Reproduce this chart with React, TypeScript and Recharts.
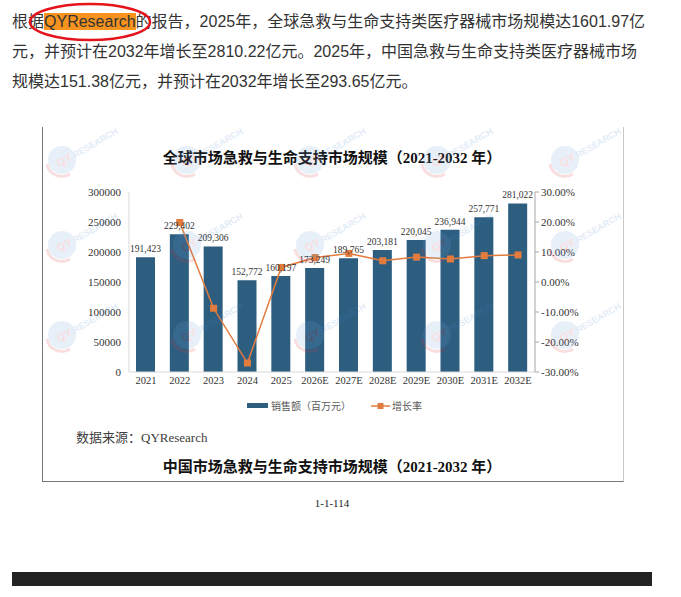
import React from 'react';
import { ComposedChart, Bar, Line, XAxis, YAxis, LabelList } from 'recharts';

const years = ['2021', '2022', '2023', '2024', '2025', '2026E', '2027E', '2028E', '2029E', '2030E', '2031E', '2032E'];
const sales = [191423, 229402, 209306, 152772, 160197, 173249, 189765, 203181, 220045, 236944, 257771, 281022];
const growth = [null, 0.1984, -0.0876, -0.2701, 0.0486, 0.0815, 0.0953, 0.0707, 0.083, 0.0768, 0.0879, 0.0902];
const leftTicks = [0, 50000, 100000, 150000, 200000, 250000, 300000];
const rightTicks = [-0.3, -0.2, -0.1, 0, 0.1, 0.2, 0.3];

// watermark logo positions in the chart picture
const markX = [62, 187, 310, 437, 565];
const markY = [160, 245, 335];

const data = years.map((year, i) => ({ year, sales: sales[i], growth: growth[i] }));

const BAR = '#2d5e80';
const ORANGE = '#e27c3e';
const SERIF = '"Liberation Serif", "Noto Sans CJK SC", serif';
const SANS = '"Liberation Sans", "Noto Sans CJK SC", sans-serif';

const SquareDot = (props: any) => {
  const { cx, cy, value } = props;
  if (value == null || cx == null || cy == null) return null;
  return <rect x={cx - 3.5} y={cy - 3.5} width={7} height={7} fill={ORANGE} />;
};

const ChartLegend = () => (
  <div style={{ display: 'flex', justifyContent: 'center', alignItems: 'center', fontFamily: SANS, fontSize: 10, color: '#595959' }}>
    <span style={{ display: 'inline-block', width: 21, height: 5, background: BAR, marginRight: 3 }} />
    <span style={{ marginRight: 20 }}>销售额（百万元）</span>
    <svg width={19} height={8} style={{ marginRight: 2 }}>
      <line x1={0} y1={4} x2={19} y2={4} stroke={ORANGE} strokeWidth={1.5} />
      <rect x={6.5} y={1} width={6} height={6} fill={ORANGE} />
    </svg>
    <span>增长率</span>
  </div>
);

const Watermarks = () => (
  <svg width={681} height={597} style={{ position: 'absolute', left: 0, top: 0, pointerEvents: 'none' }}>
    {markY.map((y, r) =>
      markX.map((x, c) => (
        <g key={`${r}-${c}`} transform={`translate(${x},${y})`} opacity={0.16}>
          <circle r={14} fill="#6fa3d6" />
          <path d="M -15 4 A 15 15 0 0 0 8 14" fill="none" stroke="#e0393e" strokeWidth={3} />
          <g transform="rotate(-30)">
            <text x={-6} y={5} fontFamily={SANS} fontSize={11} fontWeight={700} fill="#e0393e">QY</text>
            <text x={12} y={5} fontFamily={SANS} fontSize={9} fontWeight={700} fill="#4a8ad0">RESEARCH</text>
          </g>
        </g>
      ))
    )}
  </svg>
);

export default function App() {
  return (
    <div style={{ position: 'absolute', left: 0, top: 0, width: 681, height: 597, background: '#fff', overflow: 'hidden' }}>
      <div style={{ position: 'absolute', left: 12, top: 7, fontFamily: SANS, fontSize: 16, lineHeight: '30px', color: '#333', whiteSpace: 'nowrap' }}>
        根据<span style={{ background: '#f7931e' }}>QYResearch</span>的报告，2025年，全球急救与生命支持类医疗器械市场规模达1601.97亿
        <br />
        元，并预计在2032年增长至2810.22亿元。2025年，中国急救与生命支持类医疗器械市场
        <br />
        规模达151.38亿元，并预计在2032年增长至293.65亿元。
      </div>
      <svg width={681} height={60} style={{ position: 'absolute', left: 0, top: 0 }}>
        <ellipse cx={90} cy={22} rx={60} ry={18} fill="none" stroke="#e5141c" strokeWidth={2.5} />
      </svg>

      <div style={{ position: 'absolute', left: 42, top: 127, width: 580, height: 354, borderLeft: '1.5px solid #777', borderRight: '1px solid #c8c8c8', borderBottom: '1.5px solid #777' }} />

      <div style={{ position: 'absolute', left: 42, top: 146, width: 580, textAlign: 'center', fontFamily: SERIF, fontWeight: 700, fontSize: 15, color: '#111' }}>
        全球市场急救与生命支持市场规模（2021-2032 年）
      </div>

      <div style={{ position: 'absolute', left: 0, top: 0 }}>
        <ComposedChart width={681} height={597} data={data} margin={{ top: 192, right: 86, bottom: 207, left: 0 }}>
          <XAxis
            dataKey="year"
            height={18}
            axisLine={{ stroke: '#d9d9d9' }}
            tickLine={false}
            tickSize={3}
            tick={{ fontFamily: SERIF, fontSize: 10.5, fill: '#333' }}
            interval={0}
          />
          <YAxis
            yAxisId="left"
            width={129}
            domain={[0, 300000]}
            ticks={leftTicks}
            axisLine={{ stroke: '#d9d9d9' }}
            tickLine={false}
            tick={{ fontFamily: SERIF, fontSize: 11, fill: '#333' }}
          />
          <YAxis
            yAxisId="right"
            orientation="right"
            width={60}
            domain={[-0.3, 0.3]}
            ticks={rightTicks}
            axisLine={{ stroke: '#a6a6a6' }}
            tickLine={{ stroke: '#a6a6a6' }}
            tickSize={4}
            tickFormatter={(v: number) => `${(v * 100).toFixed(2)}%`}
            tick={{ fontFamily: SERIF, fontSize: 11, fill: '#333' }}
          />
          <Bar yAxisId="left" dataKey="sales" name="销售额（百万元）" fill={BAR} barSize={19} isAnimationActive={false}>
            <LabelList
              dataKey="sales"
              position="top"
              offset={5}
              formatter={(v: number) => v.toLocaleString('en-US')}
              style={{ fontFamily: SERIF, fontSize: 9.5, fill: '#333' }}
            />
          </Bar>
          <Line
            yAxisId="right"
            dataKey="growth"
            name="增长率"
            stroke={ORANGE}
            strokeWidth={1.5}
            dot={<SquareDot />}
            activeDot={false}
            connectNulls={false}
            isAnimationActive={false}
          />
        </ComposedChart>
      </div>

      <Watermarks />

      <div style={{ position: 'absolute', left: 0, top: 398, width: 669 }}>
        <ChartLegend />
      </div>

      <div style={{ position: 'absolute', left: 76, top: 427, fontFamily: SERIF, fontSize: 13, color: '#404040' }}>
        数据来源：QYResearch
      </div>
      <div style={{ position: 'absolute', left: 42, top: 455, width: 580, textAlign: 'center', fontFamily: SERIF, fontWeight: 700, fontSize: 15, color: '#111' }}>
        中国市场急救与生命支持市场规模（2021-2032 年）
      </div>
      <div style={{ position: 'absolute', left: 42, top: 497, width: 580, textAlign: 'center', fontFamily: SERIF, fontSize: 11, color: '#222' }}>
        1-1-114
      </div>
      <div style={{ position: 'absolute', left: 12, top: 572, width: 640, height: 14, background: '#232323' }} />
    </div>
  );
}
